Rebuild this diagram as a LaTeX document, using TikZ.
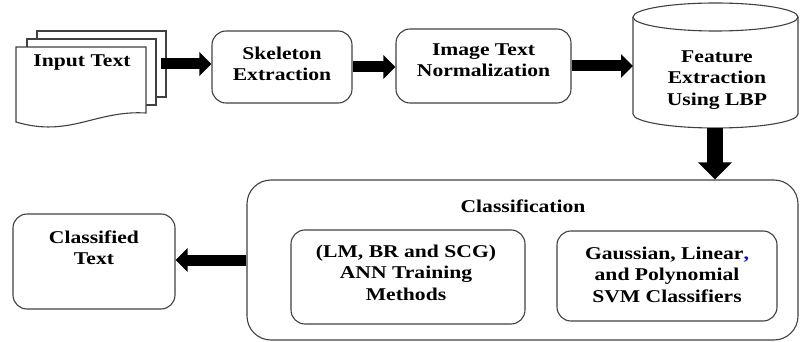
\documentclass[tikz,border=0pt]{standalone}
\usepackage{fontspec}
\setmainfont[FakeStretch=1.2]{Liberation Serif}
\usetikzlibrary{arrows.meta,positioning}
\begin{document}
\begin{tikzpicture}[x=1pt,y=1pt]
	\def \rowoneht{-66}
	\def \rowtwoht{-260}
	\tikzstyle{b-node}=[rectangle,rounded corners=14pt,draw=black!75,line width=1.1pt,inner sep=0pt]
	\tikzstyle{t-node}=[align=center,inner sep=0pt,font=\fontsize{18}{21.5}\selectfont\bfseries]
	\tikzstyle{page}=[rectangle,draw=black!75,fill=white,line width=1.1pt,inner sep=0pt,minimum width=129,minimum height=66]
	\tikzstyle{h-arrow}=[draw=black,line width=11pt,-{Triangle[length=12pt,width=23pt]}]
	\tikzstyle{v-arrow}=[draw=black,line width=16pt,-{Triangle[length=17pt,width=33pt]}]

	\useasboundingbox (0,0) rectangle (800,-342);

	% input pages
	\node[page] 	(pg3)	at (101.5,-64)	{};
	\node[page] 	(pg2)	at (91.5,-72)	{};
	\draw[draw=black!75,line width=1.1pt,fill=white] (16,-47) -- (146,-47) -- (146,-113) .. controls (95,-110) and (70,-138) .. (16,-122) -- cycle;
	\node[t-node] 	(inp)	at (82,-63)		{Input Text};

	% first row
	\node[b-node,minimum width=140,minimum height=72] 	(skel)	at (282,-67)	{};
	\node[t-node] 	(skel-t)	at (282,-64)	{Skeleton\\Extraction};
	\node[b-node,minimum width=175,minimum height=74] 	(norm)	at (483.5,\rowoneht)	{};
	\node[t-node] 	(norm-t)	at (483.5,-60)	{Image Text\\Normalization};

	% cylinder
	\draw[draw=black!75,line width=1.1pt] (633,-17) -- (633,-114) arc[start angle=180,end angle=360,x radius=82.5,y radius=14] -- (798,-17);
	\draw[draw=black!75,line width=1.1pt] (715.5,-17) ellipse [x radius=82.5,y radius=14];
	\node[t-node] 	(feat)	at (717,-80)	{Feature\\Extraction\\Using LBP};
	\coordinate (feat-w) at (633,-67);
	\coordinate (feat-s) at (715,-128);

	% second row
	\node[b-node,rounded corners=24pt,minimum width=551,minimum height=160] 	(cls)	at (522.5,\rowtwoht)	{};
	\node[t-node] 	(cls-t)	at (523,-206)	{Classification};
	\node[b-node,minimum width=234,minimum height=94] 	(ann)	at (408,-277)	{};
	\node[t-node] 	(ann-t)	at (406,-272.5)	{(LM, BR and SCG)\\ANN Training\\Methods};
	\node[b-node,minimum width=220,minimum height=90] 	(svm)	at (667,-276)	{};
	\node[t-node] 	(svm-t)	at (667,-274.5)	{Gaussian, Linear\textcolor{blue}{,}\\and Polynomial\\SVM Classifiers};
	\node[b-node,minimum width=162,minimum height=95] 	(out)	at (94,-261.5)	{};
	\node[t-node] 	(out-t)	at (94,-247.5)	{Classified\\Text};

	\draw[h-arrow] ([xshift=-6pt]pg3.east) -- (skel.west |- pg3.east);
	\draw[h-arrow] (skel.east) -- (skel.east -| norm.west);
	\draw[h-arrow] (norm.east) -- (norm.east -| feat-w);
	\draw[v-arrow] (feat-s) -- (feat-s |- cls.north);
	\draw[h-arrow] (cls.west) -- (cls.west -| out.east);
\end{tikzpicture}
\end{document}
